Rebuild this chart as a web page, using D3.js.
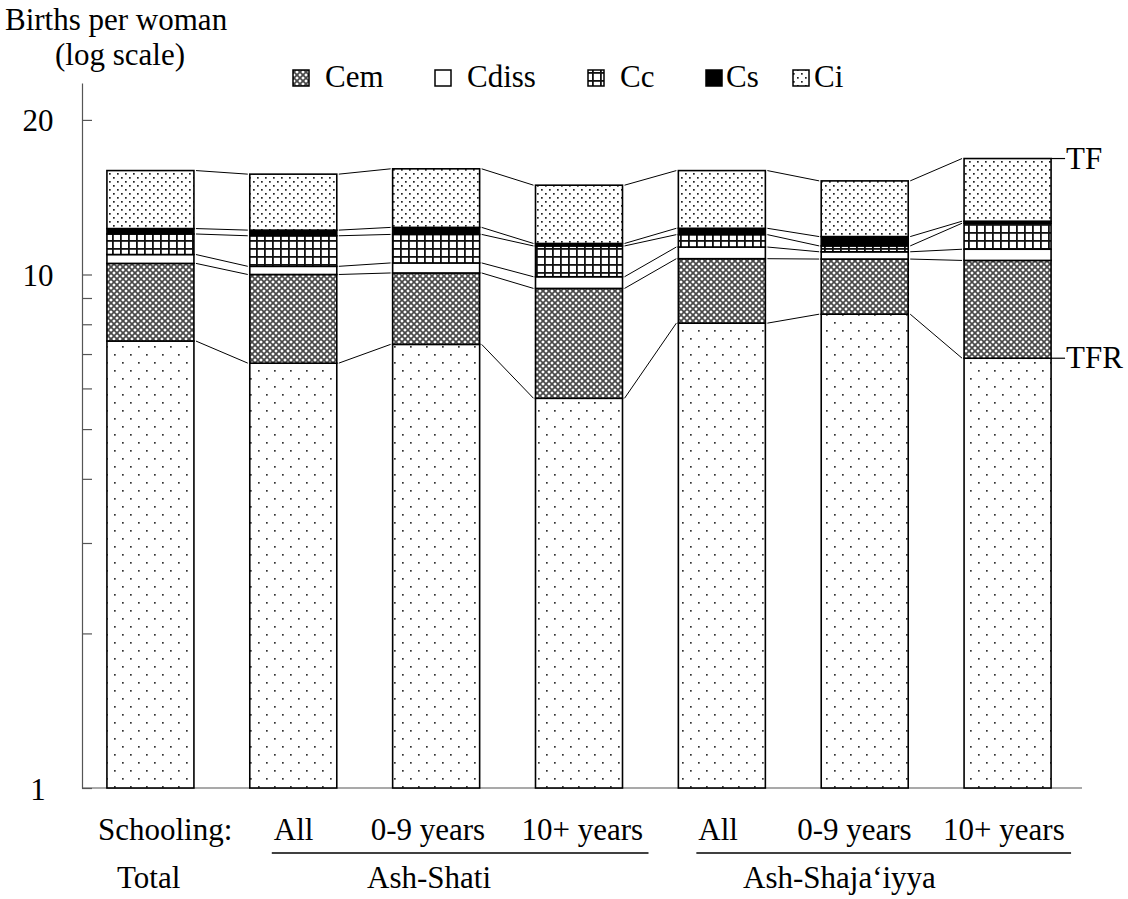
<!DOCTYPE html>
<html>
<head>
<meta charset="utf-8">
<script src="https://cdn.jsdelivr.net/npm/d3@7"></script>
<style>
  html, body { margin: 0; padding: 0; background: #fff; }
  svg text { font-family: "Liberation Serif", "Tinos", "Times New Roman", "Nimbus Roman", "DejaVu Serif", serif; fill: #000; }
</style>
</head>
<body>
<svg id="chart" width="1128" height="899"></svg>
<script>
// ---- data ----
const categories = ["Total", "Shati-All", "Shati-0-9", "Shati-10+", "Shaja-All", "Shaja-0-9", "Shaja-10+"];
const schoolingLabels = ["", "All", "0-9 years", "10+ years", "All", "0-9 years", "10+ years"];
const areaLabels = ["Total", "Ash-Shati", "Ash-Shaja\u2018iyya"];
const seriesNames = ["Cem", "Cdiss", "Cc", "Cs", "Ci"];
// total fertility rate (bottom of each stack), births per woman
const tfr   = [7.42, 6.72, 7.31, 5.74, 8.04, 8.37, 6.87];
// proximate-determinant indices (each segment multiplies the level by 1/C)
const cem   = [0.706, 0.672, 0.726, 0.611, 0.749, 0.781, 0.645];
const cdiss = [0.961, 0.964, 0.956, 0.949, 0.949, 0.968, 0.951];
const cc    = [0.912, 0.872, 0.880, 0.871, 0.946, 0.974, 0.890];
const cs    = [0.976, 0.975, 0.969, 0.989, 0.972, 0.959, 0.991];
const ci    = [0.771, 0.778, 0.769, 0.770, 0.772, 0.779, 0.755];
const tickValues = [1, 2, 3, 4, 5, 6, 7, 8, 9, 10, 20];
const tickLabels = {1: "1", 10: "10", 20: "20"};

const FONT = "'Liberation Serif', 'Tinos', 'Times New Roman', 'Nimbus Roman', 'DejaVu Serif', serif";

// ---- derived stacks ----
const indices = [cem, cdiss, cc, cs, ci];
const levels = categories.map((c, i) => {
  const lv = [tfr[i]];
  indices.forEach(arr => lv.push(lv[lv.length - 1] / arr[i]));
  return lv; // [TFR, L1, L2, L3, L4, TF]
});

const svg = d3.select("#chart");
const x = d3.scaleBand().domain(categories).range([79, 1079]).paddingInner(0.391).paddingOuter(0.1955);
const y = d3.scaleLog().domain([1, 23.6]).range([788, 83]);
const bw = x.bandwidth();

// ---- patterns ----
const defs = svg.append("defs");
function pat(id, w, h, draw) {
  const p = defs.append("pattern").attr("id", id).attr("patternUnits", "userSpaceOnUse")
    .attr("width", w).attr("height", h);
  p.append("rect").attr("width", w).attr("height", h).attr("fill", "#fff");
  draw(p);
}
pat("p-tfr", 16, 16, p => {
  p.append("rect").attr("x", 2).attr("y", 2).attr("width", 1.7).attr("height", 1.7).attr("fill", "#333");
  p.append("rect").attr("x", 10).attr("y", 10).attr("width", 1.7).attr("height", 1.7).attr("fill", "#333");
});
pat("p-ci", 8, 8, p => {
  p.append("rect").attr("x", 1).attr("y", 1).attr("width", 1.7).attr("height", 1.7).attr("fill", "#222");
  p.append("rect").attr("x", 5).attr("y", 5).attr("width", 1.7).attr("height", 1.7).attr("fill", "#222");
});
pat("p-cem", 6, 6, p => {
  p.append("path").attr("d", "M0,0L6,6M6,0L0,6M-1,5L1,7M5,-1L7,1M-1,1L1,-1M5,7L7,5")
    .attr("stroke", "#4a4a4a").attr("stroke-width", 1.7);
});
pat("p-cc", 8, 8, p => {
  p.append("rect").attr("x", 0).attr("y", 0).attr("width", 8).attr("height", 1.8).attr("fill", "#111");
  p.append("rect").attr("x", 0).attr("y", 0).attr("width", 1.8).attr("height", 8).attr("fill", "#111");
});
const segFill = ["url(#p-tfr)", "url(#p-cem)", "#fff", "url(#p-cc)", "#000", "url(#p-ci)"];

// ---- y axis ----
const yAxis = d3.axisLeft(y).tickValues(tickValues).tickSize(-10).tickSizeOuter(0)
  .tickFormat(d => tickLabels[d] || "");
const gy = svg.append("g").attr("transform", "translate(82,0)").call(yAxis)
  .attr("font-family", null).attr("font-size", null);
gy.select(".domain").attr("stroke", "#555").attr("stroke-width", 1.2);
gy.selectAll(".tick line").attr("stroke", "#555").attr("stroke-width", 1.2);
gy.selectAll(".tick text").attr("x", -44).attr("dy", null).attr("y", 11)
  .attr("text-anchor", "middle").style("font-size", "31px").style("font-family", FONT);

// x axis baseline
svg.append("line").attr("x1", 82).attr("x2", 1082).attr("y1", y(1)).attr("y2", y(1))
  .attr("stroke", "#555").attr("stroke-width", 1.2);

// ---- connector lines ----
const conn = svg.append("g");
for (let i = 0; i < categories.length - 1; i++) {
  for (let k = 0; k < 6; k++) {
    conn.append("line")
      .attr("x1", x(categories[i]) + bw + 2).attr("y1", y(levels[i][k]))
      .attr("x2", x(categories[i + 1]) - 2).attr("y2", y(levels[i + 1][k]))
      .attr("stroke", "#000").attr("stroke-width", 1);
  }
}

// ---- bars ----
const bars = svg.append("g");
categories.forEach((c, i) => {
  const lv = [1].concat(levels[i]);
  for (let s = 0; s < 6; s++) {
    const y0 = y(lv[s]), y1 = y(lv[s + 1]);
    bars.append("rect").attr("x", x(c)).attr("y", y1).attr("width", bw).attr("height", y0 - y1)
      .attr("fill", segFill[s]).attr("stroke", "#000").attr("stroke-width", 1.6);
  }
});

// ---- TF / TFR labels ----
const last = categories.length - 1;
const lx = x(categories[last]) + bw;
[["TF", levels[last][5]], ["TFR", levels[last][0]]].forEach(([t, v]) => {
  svg.append("line").attr("x1", lx).attr("x2", lx + 14).attr("y1", y(v)).attr("y2", y(v))
    .attr("stroke", "#000").attr("stroke-width", 1.2);
  svg.append("text").attr("x", lx + 15).attr("y", y(v) + 10).style("font-size", "31px").text(t);
});

// ---- axis title ----
svg.append("text").attr("x", 5).attr("y", 30).style("font-size", "31px").text("Births per woman");
svg.append("text").attr("x", 55).attr("y", 65).style("font-size", "31px").text("(log scale)");

// ---- legend ----
const legBoxX = [293, 435, 588, 706, 793];
const legTextX = [325, 467, 620, 726, 814];
const legFill = ["url(#p-cem)", "#fff", "url(#p-cc)", "#000", "url(#p-ci)"];
seriesNames.forEach((n, i) => {
  svg.append("rect").attr("x", legBoxX[i]).attr("y", 70).attr("width", 16).attr("height", 16)
    .attr("fill", legFill[i]).attr("stroke", "#000").attr("stroke-width", 1.5);
  svg.append("text").attr("x", legTextX[i]).attr("y", 87).style("font-size", "31px").text(n);
});

// ---- category labels ----
svg.append("text").attr("x", 98).attr("y", 840).style("font-size", "31px").text("Schooling:");
const schoolOffset = [0, 24, -22, -14, 20, -24, -21];
categories.forEach((c, i) => {
  if (!schoolingLabels[i]) return;
  svg.append("text").attr("x", x(c) + schoolOffset[i]).attr("y", 840)
    .style("font-size", "31px").text(schoolingLabels[i]);
});
// group underlines
[[1, 3, 22, 26], [4, 6, 18, 20]].forEach(([a, b, s0, s1]) => {
  svg.append("line").attr("x1", x(categories[a]) + s0).attr("x2", x(categories[b]) + bw + s1)
    .attr("y1", 853).attr("y2", 853).attr("stroke", "#000").attr("stroke-width", 1.5);
});
svg.append("text").attr("x", 117).attr("y", 888).style("font-size", "31px").text(areaLabels[0]);
svg.append("text").attr("x", 367).attr("y", 888).style("font-size", "31px").text(areaLabels[1]);
svg.append("text").attr("x", 743).attr("y", 888).style("font-size", "31px").text(areaLabels[2]);
</script>
</body>
</html>
